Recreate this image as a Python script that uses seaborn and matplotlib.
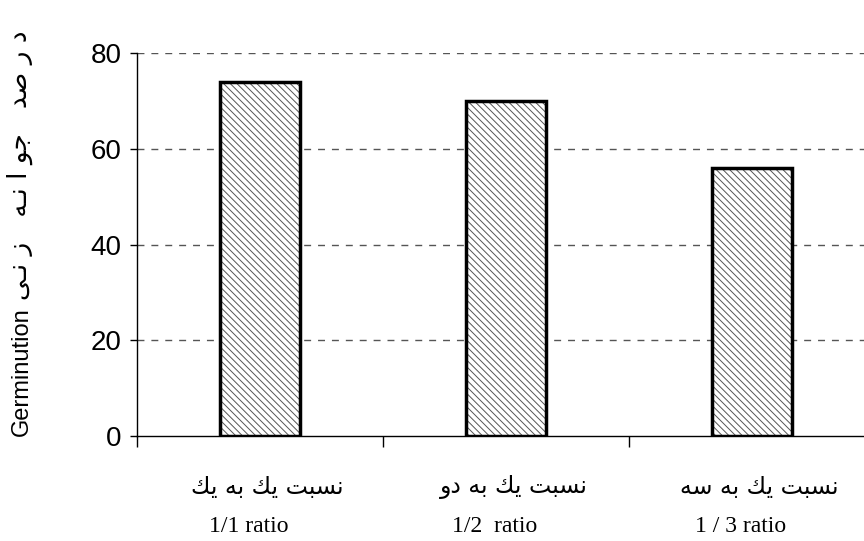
import numpy as np
import pandas as pd
import matplotlib
matplotlib.use('Agg')
import matplotlib.pyplot as plt
import seaborn as sns

# dane
categories = ['1/1', '1/2', '1/3']
germination = [74, 70, 56]
# etykiety perskie w formach prezentacyjnych, kolejnosc wizualna
fa_labels = ['\uFEDA\uFEF3 \uFEEA\uFE91 \uFEDA\uFEF3 \uFE96\uFE92\uFEB4\uFEE7',
             '\uFEED\uFEA9 \uFEEA\uFE91 \uFEDA\uFEF3 \uFE96\uFE92\uFEB4\uFEE7',
             '\uFEEA\uFEB3 \uFEEA\uFE91 \uFEDA\uFEF3 \uFE96\uFE92\uFEB4\uFEE7']
ratio_labels = ['1/1 ratio', '1/2  ratio', '1 / 3 ratio']
y_ticks = [0, 20, 40, 60, 80]
ylabel_en = 'Germinution'
ylabel_fa = '\uFEF0\u0640\uFEE7 \uFEAF   \uFEEA\u0640\uFEE7 \uFE8D \uFEEE\uFE9F   \uFEAA\uFEBB \uFEAD \uFEA9'

df = pd.DataFrame({'cat': categories, 'val': germination})

sns.set_style('white')
plt.rcParams['font.family'] = ['Liberation Sans', 'DejaVu Sans']
plt.rcParams['hatch.linewidth'] = 0.7
plt.rcParams['text.color'] = 'black'
plt.rcParams['ytick.color'] = 'black'
plt.rcParams['xtick.color'] = 'black'

fig = plt.figure(figsize=(8.64, 5.41), dpi=100)
ax = fig.add_axes([0.1586, 0.1941, 0.8541, 0.7079])

# wypelnienie kreskowane
sns.barplot(data=df, x='cat', y='val', ax=ax, color='white', width=0.325,
            edgecolor='#555555', linewidth=0, saturation=1)
for p in ax.patches:
    p.set_hatch('\\' * 5)
    p.set_edgecolor('#555555')
# obrys
sns.barplot(data=df, x='cat', y='val', ax=ax, fill=False, width=0.325,
            edgecolor='black', linewidth=2.5)

ax.set_xlim(-0.5, 2.5)
ax.set_ylim(0, 80)
ax.set_yticks(y_ticks)
ax.set_yticklabels([str(t) for t in y_ticks], fontsize=20, family='Liberation Sans')
ax.tick_params(axis='y', left=True, length=5, width=1, color='black', pad=6, direction='out')

ax.set_xticks([-0.5, 0.5, 1.5])
ax.set_xticklabels(['', '', ''])
ax.tick_params(axis='x', bottom=True, length=8, width=1, color='black', direction='out')
ax.set_xlabel('')
ax.set_ylabel('')

for y in [20, 40, 60, 80]:
    ax.axhline(y, color='#555555', linewidth=1, linestyle=(0, (5, 5)), zorder=0)

for s in ['top', 'right']:
    ax.spines[s].set_visible(False)
for s in ['left', 'bottom']:
    ax.spines[s].set_color('black')
    ax.spines[s].set_linewidth(1)

trans = ax.get_xaxis_transform()
for i in range(len(categories)):
    ax.text(i + 0.03, -0.133, fa_labels[i], transform=trans, ha='center', va='center',
            fontsize=17, family='DejaVu Sans')
    ax.text(i - 0.045, -0.237, ratio_labels[i], transform=trans, ha='center', va='center',
            fontsize=17, family='Liberation Serif')

fig.text(22 / 864, 1 - 436 / 541, ylabel_en, rotation=90, ha='center', va='bottom',
         fontsize=17, family='Liberation Sans')
fig.text(20 / 864, 1 - 300 / 541, ylabel_fa, rotation=90, ha='center', va='bottom',
         fontsize=19, family='DejaVu Sans')

fig.savefig('out.png', dpi=100)
